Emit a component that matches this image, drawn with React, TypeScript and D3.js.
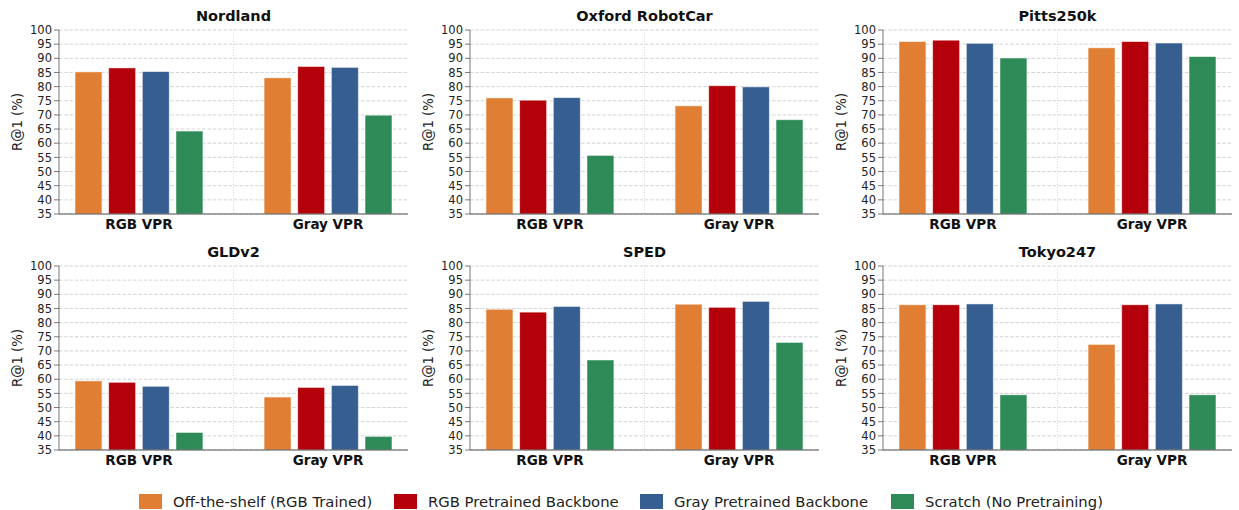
import * as d3 from "d3";

const datasets = ["Nordland", "Oxford RobotCar", "Pitts250k", "GLDv2", "SPED", "Tokyo247"];
const groups = ["RGB VPR", "Gray VPR"];
const methods = [
  "Off-the-shelf (RGB Trained)",
  "RGB Pretrained Backbone",
  "Gray Pretrained Backbone",
  "Scratch (No Pretraining)",
];
const colors = ["#E07E34", "#B4000A", "#365E91", "#2E8B57"];

// values per dataset: [RGB VPR x4, Gray VPR x4]
const nordland = [85.2, 86.6, 85.3, 64.3, 83.1, 87.1, 86.8, 69.9];
const oxford = [76.0, 75.2, 76.1, 55.7, 73.2, 80.3, 79.9, 68.3];
const pitts = [95.9, 96.4, 95.3, 90.1, 93.7, 95.9, 95.4, 90.6];
const gldv2 = [59.4, 58.9, 57.5, 41.2, 53.7, 57.1, 57.8, 39.8];
const sped = [84.7, 83.7, 85.7, 66.8, 86.5, 85.4, 87.5, 73.0];
const tokyo = [86.3, 86.3, 86.6, 54.5, 72.3, 86.3, 86.6, 54.5];
const allValues = [nordland, oxford, pitts, gldv2, sped, tokyo];

const yTicks = d3.range(35, 101, 5);

const W = 1239;
const H = 510;
const colX = [59, 470, 883];
const rowY = [30, 266];
const pw = 349;
const ph = 184;
const font = "'DejaVu Sans', sans-serif";

function Panel({ title, values, x0, y0 }: { title: string; values: number[]; x0: number; y0: number }) {
  const x = d3.scaleLinear().domain([-0.423, 1.423]).range([0, pw]);
  const y = d3.scaleLinear().domain([35, 100]).range([ph, 0]);
  const step = 0.178;
  const bw = step * 0.8;
  return (
    <g transform={`translate(${x0},${y0})`}>
      {yTicks.map((t) => (
        <line key={t} x1={0} x2={pw} y1={y(t)} y2={y(t)} stroke="#c8c8c8" strokeWidth={0.8} strokeDasharray="3.5,1.8" />
      ))}
      <line x1={x(0.5)} x2={x(0.5)} y1={0} y2={ph} stroke="#c8c8c8" strokeWidth={0.8} strokeDasharray="1,1.8" />
      {values.map((v, i) => {
        const g = Math.floor(i / 4);
        const m = i % 4;
        const cx = g + (m - 1.5) * step;
        return (
          <rect
            key={i}
            x={x(cx - bw / 2)}
            y={y(v)}
            width={x(cx + bw / 2) - x(cx - bw / 2)}
            height={ph - y(v)}
            fill={colors[m]}
            stroke="#ffffff"
            strokeOpacity={0.6}
            strokeWidth={0.8}
          />
        );
      })}
      <line x1={0} x2={0} y1={0} y2={ph} stroke="#777" strokeWidth={1} />
      <line x1={0} x2={pw} y1={ph} y2={ph} stroke="#555" strokeWidth={1.2} />
      {yTicks.map((t) => (
        <g key={t}>
          <line x1={-5} x2={0} y1={y(t)} y2={y(t)} stroke="#555" strokeWidth={0.8} />
          <text x={-7} y={y(t)} dy="0.36em" textAnchor="end" fontSize={11.5} fill="#222" fontFamily={font}>
            {t}
          </text>
        </g>
      ))}
      {groups.map((gname, g) => (
        <text key={gname} x={x(g)} y={ph + 15} textAnchor="middle" fontSize={13.5} fontWeight="bold" fill="#111" fontFamily={font}>
          {gname}
        </text>
      ))}
      <text
        transform={`translate(${-37},${ph / 2}) rotate(-90)`}
        textAnchor="middle"
        fontSize={13.3}
        fill="#222"
        fontFamily={font}
      >
        R@1 (%)
      </text>
      <text x={pw / 2} y={-9} textAnchor="middle" fontSize={14.5} fontWeight="bold" fill="#111" fontFamily={font}>
        {title}
      </text>
    </g>
  );
}

const legendX = [139, 394, 640, 891];

export default function App() {
  return (
    <svg width={W} height={H} style={{ display: "block", position: "absolute", left: 0, top: 0, background: "#fff" }}>
      {datasets.map((d, i) => (
        <Panel key={d} title={d} values={allValues[i]} x0={colX[i % 3]} y0={rowY[Math.floor(i / 3)]} />
      ))}
      {methods.map((m, i) => (
        <g key={m} transform={`translate(${legendX[i]},494)`}>
          <rect width={23} height={15} fill={colors[i]} />
          <text x={34} y={8} dy="0.36em" fontSize={14.8} fill="#222" fontFamily={font}>
            {m}
          </text>
        </g>
      ))}
    </svg>
  );
}
